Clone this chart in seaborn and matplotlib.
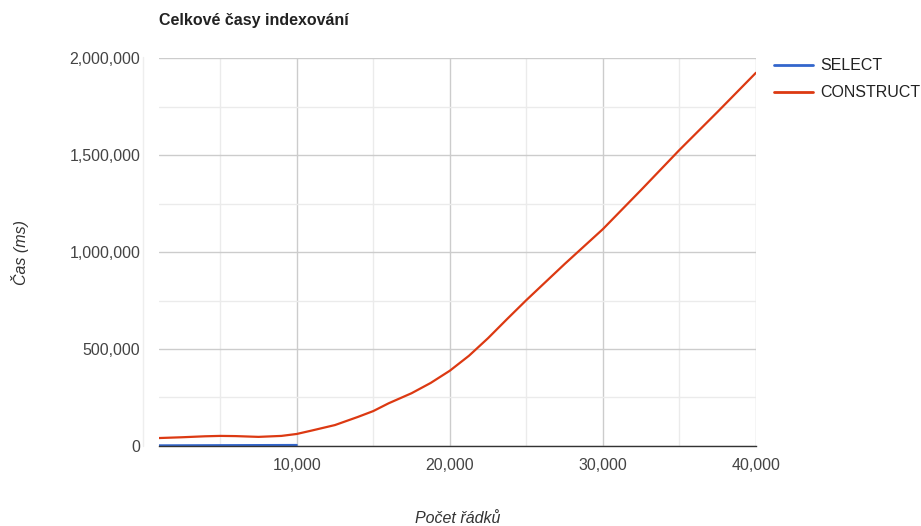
import matplotlib
matplotlib.use("Agg")
import numpy as np
import pandas as pd
import seaborn as sns
import matplotlib.pyplot as plt
from matplotlib.lines import Line2D
from matplotlib.ticker import FuncFormatter, MultipleLocator

# values
construct_rows = [1000, 2500, 4000, 5000, 6000, 7500, 9000, 10000, 11000, 12500,
                  14000, 15000, 16000, 17500, 18750, 20000, 21250, 22500, 23750,
                  25000, 27500, 30000, 32500, 35000, 37500, 40000]
construct_ms = [41000, 45000, 50000, 52000, 51000, 47000, 52000, 62000, 80000, 108000,
                150000, 180000, 220000, 272000, 325000, 388000, 465000, 556000, 655000,
                752000, 938000, 1118000, 1320000, 1526000, 1723000, 1924000]
select_rows = [1000, 5000, 10000]
select_ms = [3000, 4000, 5000]

df = pd.concat([
    pd.DataFrame({"rows": select_rows, "ms": select_ms, "series": "SELECT"}),
    pd.DataFrame({"rows": construct_rows, "ms": construct_ms, "series": "CONSTRUCT"}),
])

sns.set_theme(style="white")
plt.rcParams['font.family'] = ['Liberation Sans', 'DejaVu Sans']

fig = plt.figure(figsize=(9.21, 5.26), dpi=100)
ax = fig.add_axes([0.1726, 0.1521, 0.6482, 0.7376])

sns.lineplot(data=df, x="rows", y="ms", hue="series",
             palette={"SELECT": "#3366cc", "CONSTRUCT": "#dc3912"},
             linewidth=1.6, ax=ax, legend=False)

ax.set_xlim(1000, 40000)
ax.set_ylim(0, 2000000)
ax.xaxis.set_major_locator(MultipleLocator(10000))
ax.xaxis.set_minor_locator(MultipleLocator(5000))
ax.yaxis.set_major_locator(MultipleLocator(500000))
ax.yaxis.set_minor_locator(MultipleLocator(250000))
fmt = FuncFormatter(lambda v, p: f"{int(v):,}")
ax.xaxis.set_major_formatter(fmt)
ax.yaxis.set_major_formatter(fmt)

ax.grid(which="major", color="#cccccc", linewidth=1)
ax.grid(which="minor", color="#ebebeb", linewidth=1)
ax.set_axisbelow(True)
for s in ["top", "right", "left"]:
    ax.spines[s].set_visible(False)
ax.spines["bottom"].set_color("#333333")
ax.spines["bottom"].set_linewidth(1)
ax.spines["bottom"].set_zorder(5)

ax.tick_params(axis="both", which="both", length=0, labelsize=11.5, labelcolor="#444444")
ax.tick_params(axis="x", pad=9)
ax.tick_params(axis="y", pad=13.5)

ax.set_xlabel("Počet řádků", fontsize=11.5, style="italic", color="#333333", labelpad=27)
ax.set_ylabel("Čas (ms)", fontsize=11.5, style="italic", color="#333333", labelpad=29)

fig.text(159 / 921, 1 - 20 / 526, "Celkové časy indexování", fontsize=11.5,
         fontweight="bold", color="#222222", ha="left", va="center")

# faint vertical line left of the plot area
fig.add_artist(Line2D([143 / 921, 143 / 921], [1 - 446 / 526, 1 - 57 / 526],
                      color="#eeeeee", linewidth=1))

handles = [Line2D([0], [0], color="#3366cc", linewidth=2),
           Line2D([0], [0], color="#dc3912", linewidth=2)]
fig.legend(handles, ["SELECT", "CONSTRUCT"], loc="upper left",
           bbox_to_anchor=(768 / 921, 1 - 52 / 526), frameon=False,
           fontsize=11.5, labelcolor="#222222", handlelength=2.4,
           handletextpad=0.5, labelspacing=0.75, borderaxespad=0)

fig.savefig("out.png", dpi=100)
